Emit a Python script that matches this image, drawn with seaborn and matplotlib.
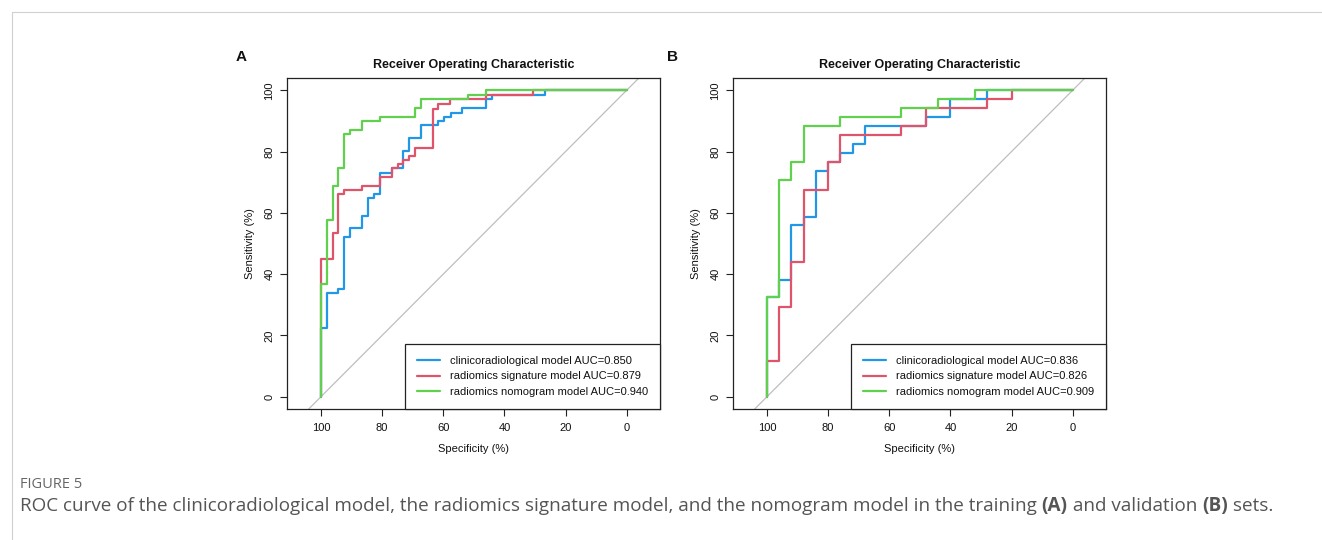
import numpy as np
import pandas as pd
import matplotlib
matplotlib.use("Agg")
import matplotlib.pyplot as plt
from matplotlib.lines import Line2D
import seaborn as sns

# ---------------- data (ROC step vertices: specificity %, sensitivity %) ----------------
labels_A = ["clinicoradiological model AUC=0.850",
            "radiomics signature model AUC=0.879",
            "radiomics nomogram model AUC=0.940"]
labels_B = ["clinicoradiological model AUC=0.836",
            "radiomics signature model AUC=0.826",
            "radiomics nomogram model AUC=0.909"]

clin_A_spec = [100, 100, 98.1, 94.3, 92.5, 90.5, 86.6, 84.7, 82.7, 80.7, 76.9, 73.0, 71.1, 67.3,
               61.6, 59.7, 57.5, 53.7, 46.1, 44.1, 26.7, 0]
clin_A_sens = [0, 22.5, 33.8, 35.1, 52.0, 55.0, 59.0, 64.7, 66.2, 73.1, 74.5, 80.3, 84.4, 88.6,
               90.0, 91.3, 92.7, 94.2, 97.0, 98.4, 100, 100]
rad_A_spec = [100, 100, 96.2, 94.3, 92.5, 86.6, 80.7, 76.9, 74.9, 73.0, 71.1, 69.2, 63.4, 61.6,
              57.8, 46.1, 30.7, 0]
rad_A_sens = [0, 45.0, 53.4, 66.1, 67.5, 68.8, 71.6, 74.5, 75.9, 77.2, 78.5, 81.3, 94.0, 95.4,
              97.0, 98.4, 100, 100]
nom_A_spec = [100, 100, 98.1, 96.2, 94.3, 92.5, 90.5, 86.6, 80.7, 69.2, 67.3, 51.8, 46.1, 0]
nom_A_sens = [0, 36.7, 57.6, 68.8, 74.5, 85.7, 87.0, 90.0, 91.3, 94.1, 97.0, 98.4, 100, 100]

clin_B_spec = [100, 100, 96, 92, 88, 84, 80, 76, 72, 68, 48, 40, 28, 0]
clin_B_sens = [0, 32.4, 38.2, 55.9, 58.8, 73.5, 76.5, 79.4, 82.4, 88.2, 91.2, 97.1, 100, 100]
rad_B_spec = [100, 100, 96, 92, 88, 80, 76, 56, 48, 28, 20, 0]
rad_B_sens = [0, 11.8, 29.4, 44.1, 67.6, 76.5, 85.3, 88.2, 94.1, 97.1, 100, 100]
nom_B_spec = [100, 100, 96, 92, 88, 76, 56, 44, 32, 0]
nom_B_sens = [0, 32.4, 70.6, 76.5, 88.2, 91.2, 94.1, 97.1, 100, 100]

tick_vals = [0, 20, 40, 60, 80, 100]
colors = ["#2297E6", "#DF536B", "#61D04F"]

caption_label = "FIGURE 5"
caption_parts = [("ROC curve of the clinicoradiological model, the radiomics signature model, "
                  "and the nomogram model in the training ", "normal"),
                 ("(A)", "bold"), (" and validation ", "normal"),
                 ("(B)", "bold"), (" sets.", "normal")]

panel_A = [(labels_A[0], clin_A_spec, clin_A_sens),
           (labels_A[1], rad_A_spec, rad_A_sens),
           (labels_A[2], nom_A_spec, nom_A_sens)]
panel_B = [(labels_B[0], clin_B_spec, clin_B_sens),
           (labels_B[1], rad_B_spec, rad_B_sens),
           (labels_B[2], nom_B_spec, nom_B_sens)]

# ---------------- style ----------------
sns.set_theme(style="ticks")
plt.rcParams['font.family'] = ['Liberation Sans', 'DejaVu Sans']
plt.rcParams['axes.linewidth'] = 0.9
plt.rcParams['axes.edgecolor'] = '#222222'

W, H = 1322, 540
fig = plt.figure(figsize=(W / 100, H / 100), dpi=100)
fig.patch.set_facecolor("white")


def make_df(panel):
    rows = []
    for lab, sp, se in panel:
        for x, y in zip(sp, se):
            rows.append({"spec": x, "sens": y, "model": lab})
    return pd.DataFrame(rows)


def draw(ax, panel, letter, letter_x):
    df = make_df(panel)
    order = [p[0] for p in panel]
    ax.axline((100, 0), (0, 100), color="#BEBEBE", lw=0.9, zorder=1)
    sns.lineplot(data=df, x="spec", y="sens", hue="model", hue_order=order,
                 palette=colors, sort=False, estimator=None, lw=1.6,
                 drawstyle="steps-post", ax=ax, zorder=3)
    ax.set_xlim(111.1, -10.9)
    ax.set_ylim(-4, 104)
    ax.set_xticks(tick_vals)
    ax.set_yticks(tick_vals)
    ax.set_xticklabels([str(v) for v in tick_vals])
    ax.set_yticklabels([str(v) for v in tick_vals], rotation=90, va="center")
    ax.tick_params(axis="both", direction="out", length=5, width=0.8,
                   labelsize=8, color="#222222", labelcolor="#111111")
    ax.tick_params(axis="x", pad=5)
    ax.tick_params(axis="y", pad=4)
    for s in ax.spines.values():
        s.set_visible(True)
        s.set_linewidth(0.9)
    ax.set_xlabel("Specificity (%)", fontsize=8, labelpad=8, color="#111111")
    ax.set_ylabel("Sensitivity (%)", fontsize=8, labelpad=7, color="#111111")
    ax.set_title("Receiver Operating Characteristic", fontsize=9, fontweight="bold",
                 pad=7, color="#111111")
    handles = [Line2D([0], [0], color=c, lw=1.6) for c in colors]
    leg = ax.legend(handles, order, loc="lower right", bbox_to_anchor=(1, 0),
                    borderaxespad=0, frameon=True, fancybox=False, edgecolor="#222222",
                    fontsize=8, handlelength=2.0, handletextpad=0.9, borderpad=1.1,
                    labelspacing=0.48, framealpha=1)
    leg.get_frame().set_linewidth(0.9)
    for t in leg.get_texts():
        t.set_color("#111111")
    fig.text(letter_x / W, 1 - 57 / H, letter, fontsize=11, fontweight="bold",
             ha="center", va="center", color="#111111")


axA = fig.add_axes([287 / W, 1 - 409 / H, 373 / W, 331 / H])
axB = fig.add_axes([733 / W, 1 - 409 / H, 373 / W, 331 / H])
draw(axA, panel_A, "A", 241)
draw(axB, panel_B, "B", 672)

# page frame lines
fig.add_artist(Line2D([12 / W, 1], [1 - 12 / H, 1 - 12 / H], color="#D0D0D0", lw=0.8))
fig.add_artist(Line2D([12 / W, 12 / W], [0, 1 - 12 / H], color="#D0D0D0", lw=0.8))

# caption
cap_font = ["Open Sans", "DejaVu Sans"]
fig.text(20 / W, 1 - 485 / H, caption_label, fontsize=10.5, color="#666666",
         family=cap_font, va="center", ha="left")
renderer = fig.canvas.get_renderer()
x_px = 20.0
for txt, wt in caption_parts:
    t = fig.text(x_px / W, 1 - 506 / H, txt, fontsize=13.6, color="#555555",
                 family=cap_font, fontweight=wt, va="center", ha="left")
    bb = t.get_window_extent(renderer=renderer)
    x_px += bb.width

fig.savefig("out.png", dpi=100, facecolor="white")
